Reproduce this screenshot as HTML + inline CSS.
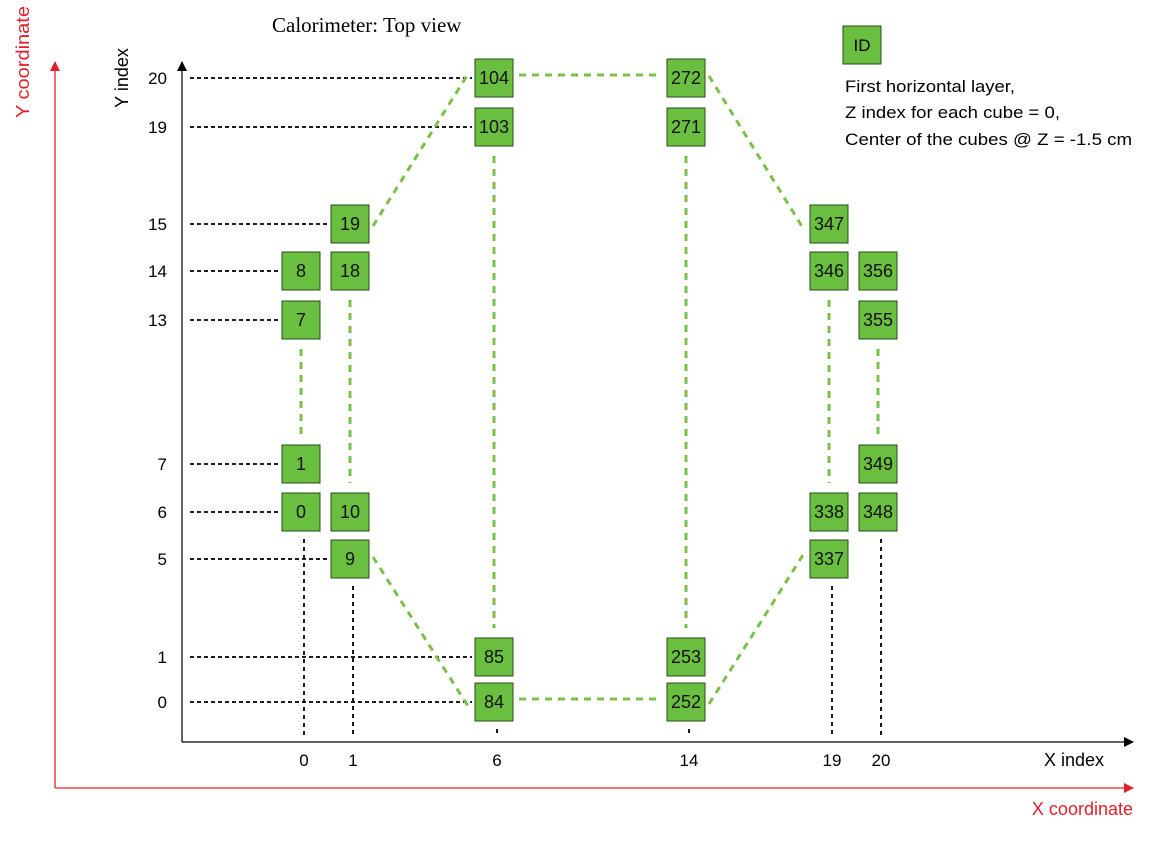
<!DOCTYPE html>
<html><head><meta charset="utf-8"><style>
html,body{margin:0;padding:0;background:#fff;}
svg{display:block;font-family:"Liberation Sans",sans-serif;}
</style></head><body>
<svg id="chart" width="1162" height="864" viewBox="0 0 1162 864" xmlns="http://www.w3.org/2000/svg">
<defs>
<marker id="ab" markerWidth="10" markerHeight="10" refX="9" refY="5" orient="auto" markerUnits="userSpaceOnUse"><path d="M0,0 L10,5 L0,10 Z" fill="#000"/></marker>
<marker id="ar" markerWidth="10" markerHeight="10" refX="9" refY="5" orient="auto" markerUnits="userSpaceOnUse"><path d="M0,0 L10,5 L0,10 Z" fill="#e3202a"/></marker>
</defs>
<text x="272" y="32" font-family="Liberation Serif,serif" font-size="21">Calorimeter: Top view</text>
<line x1="55" y1="788" x2="55" y2="62" stroke="#e3202a" stroke-width="1.3" marker-end="url(#ar)"/>
<line x1="55" y1="788" x2="1133" y2="788" stroke="#e3202a" stroke-width="1.3" marker-end="url(#ar)"/>
<text transform="translate(29,62) rotate(-90)" text-anchor="middle" fill="#e3202a" font-size="18" textLength="112" lengthAdjust="spacingAndGlyphs">Y coordinate</text>
<text x="1133" y="815" text-anchor="end" fill="#e3202a" font-size="18">X coordinate</text>
<line x1="182" y1="742" x2="182" y2="62" stroke="#000" stroke-width="1.2" marker-end="url(#ab)"/>
<line x1="182" y1="742" x2="1133" y2="742" stroke="#000" stroke-width="1.2" marker-end="url(#ab)"/>
<text transform="translate(128,78) rotate(-90)" text-anchor="middle" font-size="18">Y index</text>
<text x="1044" y="766" font-size="18">X index</text>
<g id="lines"></g>
<g id="cubes"></g>
<g id="ticks"></g>
<rect x="843" y="26" width="38" height="38" fill="#6abf40" stroke="#2b4a1c" stroke-width="1"/>
<text x="862" y="51" text-anchor="middle" font-size="17">ID</text>
<text font-size="17"><tspan x="845" y="92" textLength="170" lengthAdjust="spacingAndGlyphs">First horizontal layer,</tspan><tspan x="845" y="118" textLength="215" lengthAdjust="spacingAndGlyphs">Z index for each cube = 0,</tspan><tspan x="845" y="145" textLength="287" lengthAdjust="spacingAndGlyphs">Center of the cubes @ Z = -1.5 cm</tspan></text>
</svg>
<script>
const xTicks=[0,1,6,14,19,20];
const yTicks=[0,1,5,6,7,13,14,15,19,20];
const cubeIds=[104,103,19,18,8,7,1,0,10,9,85,84,272,271,253,252,347,346,338,337,356,355,349,348];
const cubeX=[6,6,1,1,0,0,0,0,1,1,6,6,14,14,14,14,19,19,19,19,20,20,20,20];
const cubeY=[20,19,15,14,14,13,7,6,6,5,1,0,20,19,1,0,15,14,6,5,14,13,7,6];
const linkFrom=[7,18,103,271,346,355,19,9,104,84,272,252];
const linkTo=[1,10,85,253,338,349,104,84,272,252,347,337];
const guideIds=[0,9,84,252,337,348];

function pw(d,r){return v=>{for(let i=0;i<d.length-1;i++){if(v<=d[i+1]||i==d.length-2){return r[i]+(v-d[i])*(r[i+1]-r[i])/(d[i+1]-d[i]);}}};}
const sx=pw([0,1,6,14,19,20],[301,350,494,686,829,878]);
const sy=pw([0,1,5,6,7,13,14,15,19,20],[702,657,559,512,464,320,271,224,127,78]);
const NS='http://www.w3.org/2000/svg',H=19;
const gL=document.getElementById('lines'),gC=document.getElementById('cubes'),gT=document.getElementById('ticks');
function mk(t,a,p){const e=document.createElementNS(NS,t);for(const k in a)e.setAttribute(k,a[k]);p.appendChild(e);return e;}
function pos(id){const i=cubeIds.indexOf(id);return [sx(cubeX[i]),sy(cubeY[i])];}
yTicks.forEach(v=>{
  const t=mk('text',{x:167,y:sy(v)+6,'text-anchor':'end','font-size':17},gT);t.textContent=v;
  
  
  let minX=1e9;cubeY.forEach((y,i)=>{if(y===v)minX=Math.min(minX,sx(cubeX[i]));});
  const l=mk('line',{x1:190,y1:sy(v),x2:minX-H-3,y2:sy(v),stroke:'#000','stroke-width':1.8,'stroke-dasharray':'4,3'},gL);
  
  
});
xTicks.forEach(v=>{
  const t=mk('text',{x:sx(v)+3,y:766,'text-anchor':'middle','font-size':17},gT);t.textContent=v;
  
  
});
guideIds.forEach(id=>{
  const [x,y]=pos(id);
  const l=mk('line',{x1:x+3,y1:y+H+8,x2:x+3,y2:736,stroke:'#000','stroke-width':1.8,'stroke-dasharray':'4,4'},gL);
  
  
});
linkFrom.forEach((a,i)=>{
  const [x1,y1]=pos(a),[x2,y2]=pos(linkTo[i]);
  const dx=x2-x1,dy=y2-y1;
  let p;
  if(Math.abs(dx)<1){const s=Math.sign(dy);p=[x1,y1+s*(H+10),x2,y2-s*(H+10)];}
  else if(Math.abs(dy)<6){const s=Math.sign(dx);p=[x1+s*(H+6),y1-3,x2-s*(H+6),y2-3];}
  else{const a_=Math.sign(dx),b_=Math.sign(dy);p=[x1+a_*(H+4),y1-b_*2,x2-a_*(H+7),y2+b_*4];}
  const l=mk('line',{x1:p[0],y1:p[1],x2:p[2],y2:p[3],stroke:'#7cc04a','stroke-width':3,'stroke-dasharray':'7,6'},gL);
  
  
});
cubeIds.forEach((id,i)=>{
  const x=sx(cubeX[i]),y=sy(cubeY[i]);
  const g=mk('g',{},gC);
  
  
  mk('rect',{x:x-H,y:y-H,width:2*H,height:2*H,fill:'#6abf40',stroke:'#2b4a1c','stroke-width':1},g);
  const t=mk('text',{x:x,y:y+6,'text-anchor':'middle','font-size':18,fill:'#111'},g);t.textContent=id;
});
</script>
</body></html>
